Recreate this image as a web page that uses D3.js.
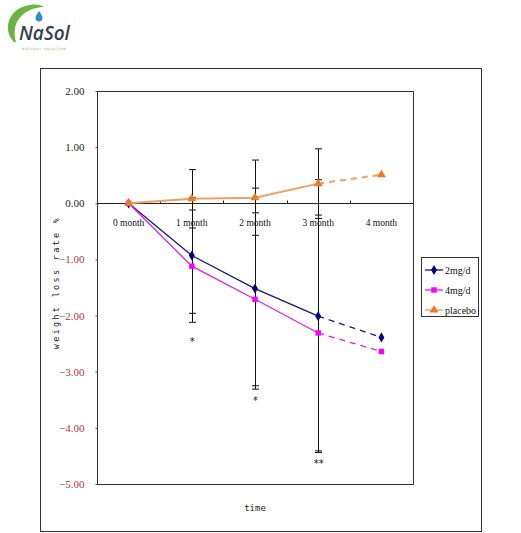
<!DOCTYPE html>
<html>
<head>
<meta charset="utf-8">
<script src="https://cdn.jsdelivr.net/npm/d3@7"></script>
<style>
  body { margin: 0; background: #fff; }
  svg { display: block; }
</style>
</head>
<body>
<div id="chart"></div>
<script>
// chart data
const categories = ["0 month", "1 month", "2 month", "3 month", "4 month"];
const dose2 = [0, -0.93, -1.52, -2.01, -2.39];
const dose4 = [0, -1.12, -1.71, -2.31, -2.64];
const placebo = [0, 0.08, 0.10, 0.35, 0.51];
const sd2 = [null, 1.03, 1.79, 2.43, null];
const sd4 = [null, 1.00, 1.54, 2.10, null];
const sdPlacebo = [null, 0.52, 0.67, 0.62, null];
const sigLabels = ["", "*", "*", "**", ""];
const sigValues = [null, -2.45, -3.5, -4.62, null];
const yTicks = [2, 1, 0, -1, -2, -3, -4, -5];
const seriesNames = ["2mg/d", "4mg/d", "placebo"];

const width = 521, height = 533;
const svg = d3.select("#chart").append("svg")
    .attr("width", width)
    .attr("height", height);

// logo
const logo = svg.append("g");
logo.append("path")
    .attr("d", "M14,42 C2,30 8,8 30,5 C36,4 41,5 44,7 C34,7 22,12 17,22 C14,28 14,35 16,42 Z")
    .attr("fill", "#6cb33f");
logo.append("path")
    .attr("d", "M39,11 C41,14 42.5,16 42.5,18 C42.5,20 41,21.5 39,21.5 C37,21.5 35.5,20 35.5,18 C35.5,16 37,14 39,11 Z")
    .attr("fill", "#2a8fd0");
logo.append("text")
    .attr("x", 19).attr("y", 40)
    .style("font-family", "Open Sans, sans-serif")
    .style("font-size", "19px")
    .style("font-style", "italic")
    .style("font-weight", "600")
    .attr("fill", "#34404c")
    .text("NaSol");
logo.append("text")
    .attr("x", 22).attr("y", 50)
    .style("font-family", "DejaVu Sans, sans-serif")
    .style("font-size", "3px")
    .style("letter-spacing", "0.9px")
    .attr("fill", "#6cb33f")
    .text("NATURAL SOLUTION");

// outer frame
svg.append("rect")
    .attr("x", 40.5).attr("y", 68.5)
    .attr("width", 441).attr("height", 463)
    .attr("fill", "none")
    .attr("stroke", "#333")
    .attr("stroke-width", 1);

const plot = { left: 97, right: 413, top: 91, bottom: 484 };

const x = d3.scaleBand()
    .domain(categories)
    .range([plot.left, plot.right]);

const y = d3.scaleLinear()
    .domain([-5, 2])
    .range([plot.bottom, plot.top]);

const cx = i => x(categories[i]) + x.bandwidth() / 2;

// plot border
svg.append("rect")
    .attr("x", plot.left + 0.5).attr("y", plot.top + 0.5)
    .attr("width", plot.right - plot.left).attr("height", plot.bottom - plot.top)
    .attr("fill", "none")
    .attr("stroke", "#333");

// y axis ticks and labels
const yAxis = svg.append("g")
    .attr("transform", `translate(${plot.left + 0.5},0)`)
    .call(d3.axisLeft(y).tickValues(yTicks).tickSize(2).tickPadding(11)
        .tickFormat(d3.format(".2f")));
yAxis.select(".domain").remove();
yAxis.selectAll("line").attr("stroke", "#555");
yAxis.selectAll("text")
    .style("font-family", "Liberation Serif, serif")
    .style("font-size", "11px")
    .attr("fill", d => d < 0 ? "#b03a3a" : "#222");

// x axis at zero
const zeroY = Math.round(y(0)) + 0.5;
svg.append("line")
    .attr("x1", plot.left).attr("x2", plot.right)
    .attr("y1", zeroY).attr("y2", zeroY)
    .attr("stroke", "#222");
svg.selectAll(".xtick")
    .data(categories.slice(1))
    .enter().append("line")
    .attr("x1", d => Math.round(x(d)) + 0.5)
    .attr("x2", d => Math.round(x(d)) + 0.5)
    .attr("y1", zeroY).attr("y2", zeroY - 3)
    .attr("stroke", "#222");
svg.selectAll(".xlabel")
    .data(categories)
    .enter().append("text")
    .attr("x", (d, i) => cx(i))
    .attr("y", zeroY + 22)
    .attr("text-anchor", "middle")
    .style("font-family", "Liberation Serif, serif")
    .style("font-size", "9.5px")
    .attr("fill", "#111")
    .text(d => d);

// axis titles
svg.append("text")
    .attr("transform", `translate(59,${(plot.top + plot.bottom) / 2 - 5}) rotate(-90)`)
    .attr("text-anchor", "middle")
    .style("font-family", "DejaVu Sans Mono, monospace")
    .style("font-size", "8.5px")
    .style("letter-spacing", "2.3px")
    .attr("fill", "#222")
    .text("weight loss rate %");
svg.append("text")
    .attr("x", (plot.left + plot.right) / 2)
    .attr("y", 511)
    .attr("text-anchor", "middle")
    .style("font-family", "DejaVu Sans Mono, monospace")
    .style("font-size", "9px")
    .attr("fill", "#222")
    .text("time");

// error bars
const errorSets = [[dose2, sd2], [dose4, sd4], [placebo, sdPlacebo]];
errorSets.forEach(([vals, sds]) => {
    vals.forEach((v, i) => {
        if (sds[i] == null) return;
        const px = Math.round(cx(i)) + 0.5;
        const hi = y(v + sds[i]), lo = y(v - sds[i]);
        svg.append("line")
            .attr("x1", px).attr("x2", px)
            .attr("y1", hi).attr("y2", lo)
            .attr("stroke", "#111");
        [hi, lo].forEach(cy => {
            svg.append("line")
                .attr("x1", px - 3.5).attr("x2", px + 3.5)
                .attr("y1", cy).attr("y2", cy)
                .attr("stroke", "#111");
        });
    });
});

// significance marks
sigLabels.forEach((s, i) => {
    if (!s) return;
    svg.append("text")
        .attr("x", cx(i))
        .attr("y", y(sigValues[i]) + 4)
        .attr("text-anchor", "middle")
        .style("font-family", "DejaVu Sans Mono, monospace")
        .style("font-size", "10px")
        .style("letter-spacing", "-1px")
        .attr("fill", "#222")
        .text(s);
});

// series
const series = [
    { name: seriesNames[0], values: dose2, color: "#000080", line: "#1a1a70", symbol: d3.symbolDiamond, size: 30 },
    { name: seriesNames[1], values: dose4, color: "#ff00ff", line: "#e020e0", symbol: d3.symbolSquare, size: 30 },
    { name: seriesNames[2], values: placebo, color: "#f07820", line: "#f0a060", symbol: d3.symbolTriangle, size: 34 }
];

const line = d3.line()
    .x(d => cx(d.i))
    .y(d => y(d.v));

series.forEach(s => {
    const pts = s.values.map((v, i) => ({ v, i }));
    svg.append("path")
        .datum(pts.slice(0, 4))
        .attr("fill", "none")
        .attr("stroke", s.line)
        .attr("stroke-width", s.symbol === d3.symbolTriangle ? 2 : 1.3)
        .attr("d", line);
    svg.append("path")
        .datum(pts.slice(3))
        .attr("fill", "none")
        .attr("stroke", s.line)
        .attr("stroke-width", s.symbol === d3.symbolTriangle ? 2 : 1.3)
        .attr("stroke-dasharray", "6,5")
        .attr("d", line);
    svg.selectAll(null)
        .data(pts)
        .enter().append("path")
        .attr("transform", d => `translate(${cx(d.i)},${y(d.v)})`)
        .attr("d", d3.symbol().type(s.symbol).size(s.size))
        .attr("fill", s.color);
});

// legend
const legend = svg.append("g");
legend.append("rect")
    .attr("x", 421.5).attr("y", 257.5)
    .attr("width", 57).attr("height", 59)
    .attr("fill", "#fff")
    .attr("stroke", "#333");
series.forEach((s, k) => {
    const ly = 270 + k * 20;
    legend.append("line")
        .attr("x1", 425).attr("x2", 443)
        .attr("y1", ly).attr("y2", ly)
        .attr("stroke", s.line)
        .attr("stroke-width", 1.3);
    legend.append("path")
        .attr("transform", `translate(434,${ly})`)
        .attr("d", d3.symbol().type(s.symbol).size(s.size))
        .attr("fill", s.color);
    legend.append("text")
        .attr("x", 445).attr("y", ly + 3.5)
        .style("font-family", "Liberation Serif, serif")
        .style("font-size", "10px")
        .attr("fill", "#111")
        .text(s.name);
});
</script>
</body>
</html>
